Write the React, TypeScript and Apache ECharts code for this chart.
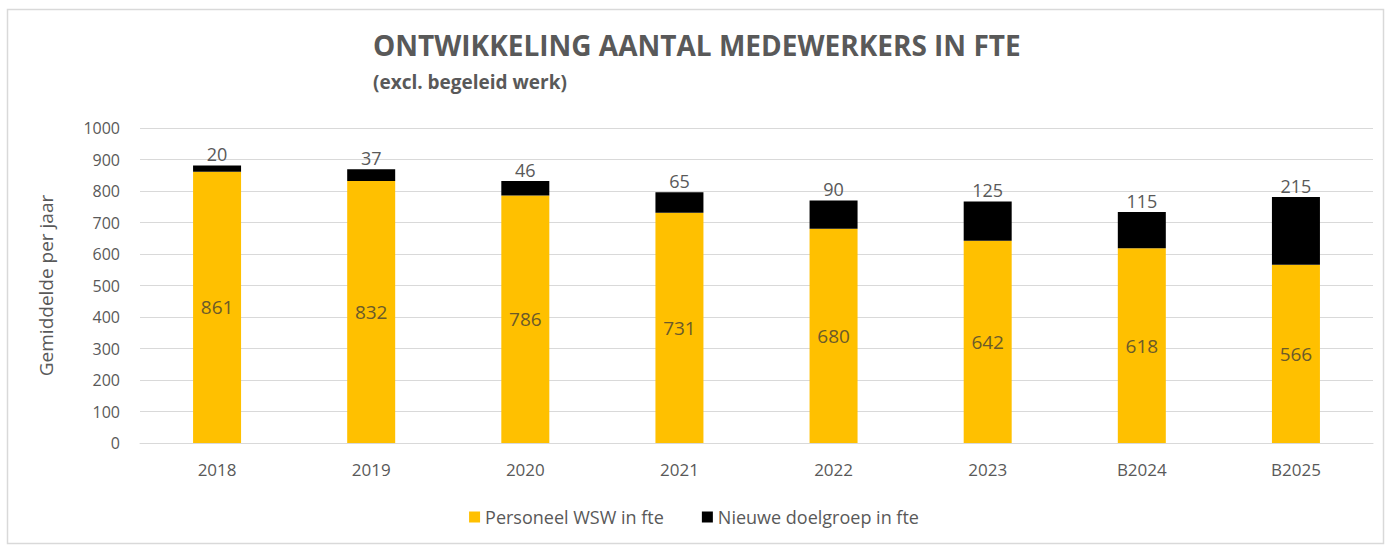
import React, { useEffect, useRef } from "react";
import * as echarts from "echarts";

const categories = ["2018", "2019", "2020", "2021", "2022", "2023", "B2024", "B2025"];
const personeelWSW = [861, 832, 786, 731, 680, 642, 618, 566];
const nieuweDoelgroep = [20, 37, 46, 65, 90, 125, 115, 215];
const yTicks = { min: 0, max: 1000, interval: 100 };

export default function App() {
  const ref = useRef<HTMLDivElement>(null);
  useEffect(() => {
    document.body.style.margin = "0";
    const chart = echarts.init(ref.current!, null, { renderer: "svg" });
    const font = "Open Sans, Noto Sans, sans-serif";
    chart.setOption({
      animation: false,
      backgroundColor: "#ffffff",
      textStyle: { fontFamily: font },
      graphic: [
        {
          type: "rect",
          shape: { x: 7.5, y: 9.5, width: 1376, height: 534 },
          style: { fill: "none", stroke: "#d9d9d9", lineWidth: 1.5 },
          silent: true,
        },
        {
          type: "text",
          left: 373,
          top: 31,
          style: { text: "ONTWIKKELING AANTAL MEDEWERKERS IN FTE", fill: "#595959", font: `bold 28px ${font}` },
        },
        {
          type: "text",
          left: 373,
          top: 72,
          style: { text: "(excl. begeleid werk)", fill: "#595959", font: `bold 19px ${font}` },
        },
      ],
      legend: {
        bottom: 16,
        left: "center",
        itemWidth: 11,
        itemHeight: 11,
        itemGap: 38,
        icon: "rect",
        textStyle: { color: "#595959", fontSize: 18, fontFamily: font },
        data: ["Personeel WSW in fte", "Nieuwe doelgroep in fte"],
      },
      grid: { left: 140, right: 15, top: 128, bottom: 104, containLabel: false },
      xAxis: {
        type: "category",
        data: categories,
        axisLine: { show: true, lineStyle: { color: "#d9d9d9" } },
        axisTick: { show: false },
        axisLabel: { color: "#595959", fontSize: 17, margin: 18, fontFamily: font },
      },
      yAxis: {
        type: "value",
        min: yTicks.min,
        max: yTicks.max,
        interval: yTicks.interval,
        name: "Gemiddelde per jaar",
        nameLocation: "middle",
        nameGap: 85,
        nameTextStyle: { color: "#595959", fontSize: 19, fontFamily: font },
        axisLine: { show: false },
        axisTick: { show: false },
        axisLabel: { color: "#595959", fontSize: 16, margin: 20, fontFamily: font, formatter: (v: number) => String(v) },
        splitLine: { lineStyle: { color: "#d9d9d9" } },
      },
      series: [
        {
          name: "Personeel WSW in fte",
          type: "bar",
          stack: "total",
          data: personeelWSW,
          barWidth: 48,
          itemStyle: { color: "#FFC000" },
          label: { show: true, position: "inside", color: "#6b5a2a", fontSize: 19, fontFamily: font },
        },
        {
          name: "Nieuwe doelgroep in fte",
          type: "bar",
          stack: "total",
          data: nieuweDoelgroep,
          barWidth: 48,
          itemStyle: { color: "#000000" },
          label: { show: true, position: "top", color: "#595959", fontSize: 18, distance: 2, fontFamily: font },
        },
      ],
    });
    return () => chart.dispose();
  }, []);
  return <div ref={ref} style={{ width: 1388, height: 547 }} />;
}
